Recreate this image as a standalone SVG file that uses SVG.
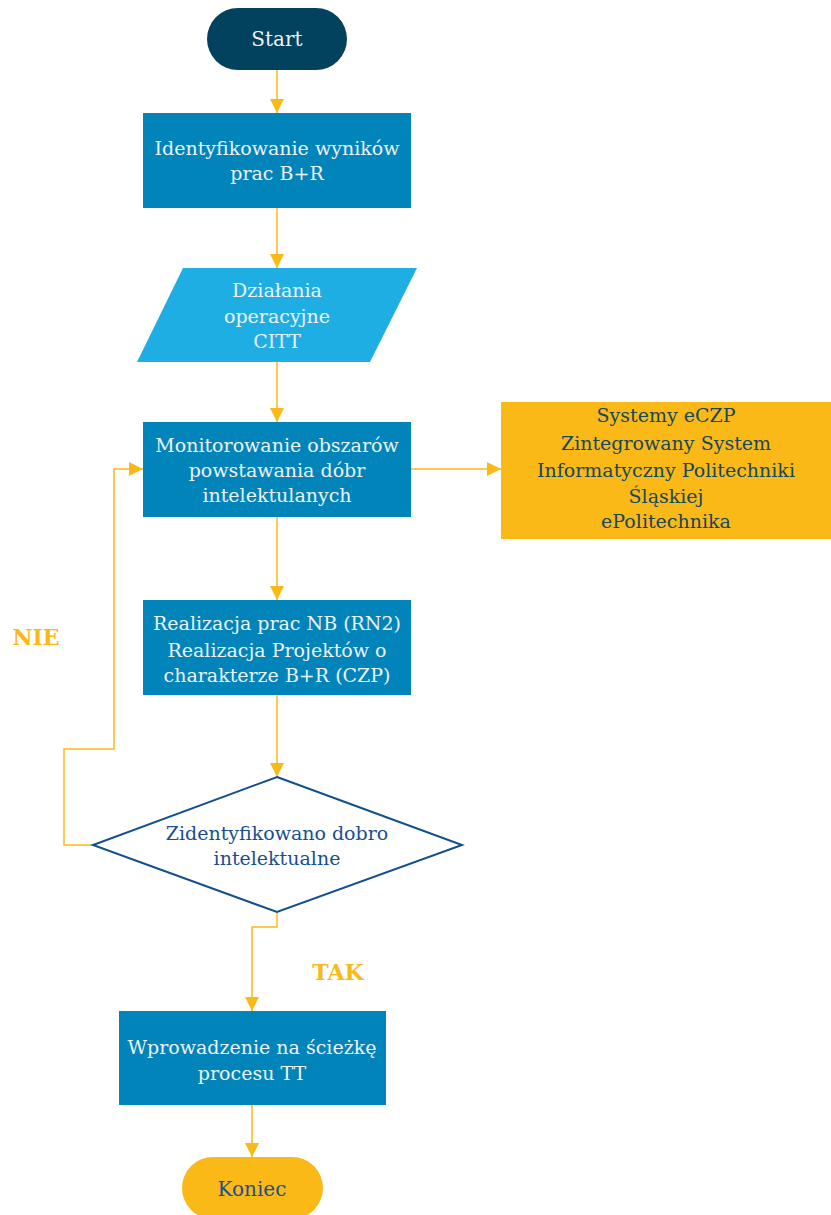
<svg xmlns="http://www.w3.org/2000/svg" width="831" height="1215" viewBox="0 0 831 1215">
<style>
text{font-family:"DejaVu Serif","Liberation Serif",serif;font-size:19px;text-anchor:middle;dominant-baseline:central}
.lt{fill:#EEF2F5}
.dk{fill:#16475E}
.bl{fill:#1A4F8F}
.lbl{fill:#FBB917;font-weight:bold;font-size:22px}
.box{fill:#0084BA}
.con{fill:none;stroke:#FBB917;stroke-width:1.5}
</style>
<defs>
<marker id="ah" viewBox="0 0 10 10" refX="10" refY="5" markerWidth="14" markerHeight="14" markerUnits="userSpaceOnUse" orient="auto"><path d="M0,0 L10,5 L0,10 z" fill="#FBB917"/></marker>
</defs>
<g id="connectors">
<path class="con" d="M277,70 V113" marker-end="url(#ah)"/>
<path class="con" d="M277,208 V268" marker-end="url(#ah)"/>
<path class="con" d="M277,362 V422" marker-end="url(#ah)"/>
<path class="con" d="M411,469 H501" marker-end="url(#ah)"/>
<path class="con" d="M277,517 V600" marker-end="url(#ah)"/>
<path class="con" d="M277,695 V777" marker-end="url(#ah)"/>
<path class="con" d="M93,845 H64 V749 H114 V469 H143" marker-end="url(#ah)"/>
<path class="con" d="M277,912 V927 H252 V1011" marker-end="url(#ah)"/>
<path class="con" d="M252,1105 V1157" marker-end="url(#ah)"/>
<text class="lbl" x="36" y="637">NIE</text>
<text class="lbl" x="338" y="972">TAK</text>
</g>
<g id="start">
<rect x="207" y="8" width="140" height="62" rx="31" fill="#02425E"/>
<text class="lt" x="277" y="39" style="font-size:20px">Start</text>
</g>
<g id="identyfikowanie">
<rect class="box" x="143" y="113" width="268" height="95"/>
<text class="lt" x="277" y="148">Identyfikowanie wyników</text>
<text class="lt" x="277" y="173">prac B+R</text>
</g>
<g id="dzialania">
<polygon points="183,268 417,268 370,362 137,362" fill="#1FAEE3"/>
<text class="lt" x="277" y="290">Działania</text>
<text class="lt" x="277" y="316">operacyjne</text>
<text class="lt" x="277" y="341">CITT</text>
</g>
<g id="monitorowanie">
<rect class="box" x="143" y="422" width="268" height="95"/>
<text class="lt" x="277" y="445">Monitorowanie obszarów</text>
<text class="lt" x="277" y="470">powstawania dóbr</text>
<text class="lt" x="277" y="495">intelektulanych</text>
</g>
<g id="systemy">
<rect x="501" y="402" width="330" height="137" fill="#FBB917"/>
<text class="dk" x="666" y="415">Systemy eCZP</text>
<text class="dk" x="666" y="443">Zintegrowany System</text>
<text class="dk" x="666" y="470">Informatyczny Politechniki</text>
<text class="dk" x="666" y="496">Śląskiej</text>
<text class="dk" x="666" y="521">ePolitechnika</text>
</g>
<g id="realizacja">
<rect class="box" x="143" y="600" width="268" height="95"/>
<text class="lt" x="277" y="623">Realizacja prac NB (RN2)</text>
<text class="lt" x="277" y="650">Realizacja Projektów o</text>
<text class="lt" x="277" y="675">charakterze B+R (CZP)</text>
</g>
<g id="decyzja">
<polygon points="277,777 462,845 277,912 93,845" fill="#FFFFFF" stroke="#11508F" stroke-width="2"/>
<text class="bl" x="277" y="833">Zidentyfikowano dobro</text>
<text class="bl" x="277" y="858">intelektualne</text>
</g>
<g id="wprowadzenie">
<rect class="box" x="119" y="1011" width="267" height="94"/>
<text class="lt" x="252" y="1047">Wprowadzenie na ścieżkę</text>
<text class="lt" x="252" y="1073">procesu TT</text>
</g>
<g id="koniec">
<rect x="182" y="1157" width="141" height="62" rx="31" fill="#FBB917"/>
<text class="bl" x="252" y="1189" style="font-size:20px">Koniec</text>
</g>
</svg>
